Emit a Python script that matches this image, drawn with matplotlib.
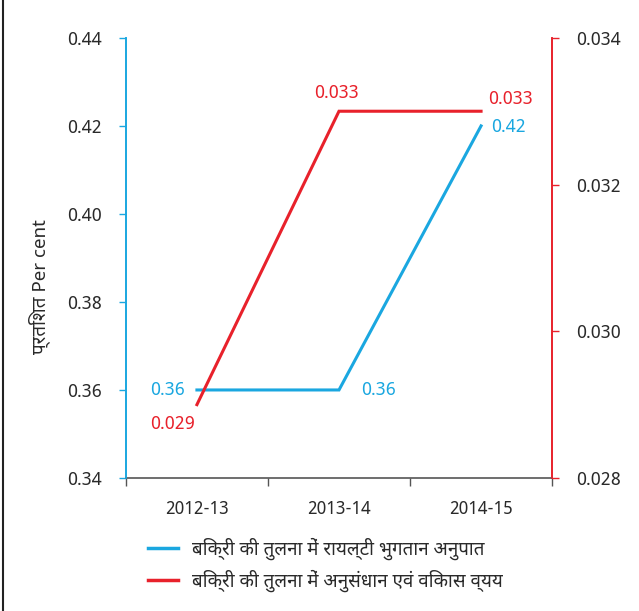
from matplotlib import pyplot as plt
from matplotlib import font_manager as fm
from matplotlib.lines import Line2D

years = ['2012-13', '2013-14', '2014-15']
royalty = [0.36, 0.36, 0.42]        # royalty payment to sales ratio (left axis)
rnd = [0.029, 0.033, 0.033]         # R&D spend to sales ratio (right axis)
royalty_labels = ['0.36', '0.36', '0.42']
rnd_labels = ['0.029', '0.033', '0.033']

legend_names = [
    'बिक्री की तुलना में रायल्टी भुगतान अनुपात',
    'बिक्री की तुलना में अनुसंधान एवं विकास व्यय',
]
ylabel = 'प्रतिशत Per cent'

BLUE = '#1aa7e0'
RED = '#e8212b'
GREY = '#555555'
TXT = '#2a2a2a'

# pick a font that has Devanagari glyphs
installed = set(f.name for f in fm.fontManager.ttflist)
dev = None
for name in ['Noto Sans Devanagari', 'Mukta', 'Hind', 'Poppins', 'Noto Serif Devanagari']:
    if name in installed:
        dev = name
        break
FAM = ([dev] if dev else []) + ['Noto Sans', 'DejaVu Sans']
plt.rcParams['font.family'] = FAM

fig = plt.figure(figsize=(6.39, 6.11), dpi=100)
ax = fig.add_axes([0.197, 0.2177, 0.667, 0.7203])
ax2 = ax.twinx()

x = [0.5, 1.5, 2.5]
ax.plot(x, royalty, color=BLUE, lw=2.2, solid_joinstyle='miter')
ax2.plot(x, rnd, color=RED, lw=2.2, solid_joinstyle='miter')

ax.set_xlim(0, 3)
ax.set_ylim(0.34, 0.44)
ax2.set_ylim(0.028, 0.034)
ax.set_yticks([0.34, 0.36, 0.38, 0.40, 0.42, 0.44])
ax.set_yticklabels(['0.34', '0.36', '0.38', '0.40', '0.42', '0.44'])
ax2.set_yticks([0.028, 0.030, 0.032, 0.034])
ax2.set_yticklabels(['0.028', '0.030', '0.032', '0.034'])

ax.set_xticks([0, 1, 2, 3])
ax.set_xticklabels([])
ax.set_xticks(x, minor=True)
ax.set_xticklabels(years, minor=True)
ax.tick_params(axis='x', which='major', length=6, color=GREY, width=1)
ax.tick_params(axis='x', which='minor', length=0, pad=16, labelsize=12.5, labelcolor=TXT)
ax.tick_params(axis='y', length=5, color=BLUE, width=1, labelsize=13, pad=12, labelcolor=TXT)
ax2.tick_params(axis='y', length=5, color=RED, width=1, labelsize=13, pad=12, labelcolor=TXT)

for a in (ax, ax2):
    a.spines['top'].set_visible(False)
    a.spines['left'].set_color(BLUE)
    a.spines['right'].set_color(RED)
    a.spines['bottom'].set_color(GREY)
    a.spines['left'].set_linewidth(1.2)
    a.spines['right'].set_linewidth(1.2)
    a.spines['bottom'].set_linewidth(1.2)
ax2.spines['bottom'].set_visible(False)

ax.set_ylabel(ylabel, fontsize=13.5, color=TXT)
ax.yaxis.set_label_coords(-0.178, 0.436)

# value labels
ax.annotate(royalty_labels[0], (x[0], royalty[0]), xytext=(-34, 0), textcoords='offset points',
            color=BLUE, fontsize=13, va='center')
ax.annotate(royalty_labels[1], (x[1], royalty[1]), xytext=(16, 0), textcoords='offset points',
            color=BLUE, fontsize=13, va='center')
ax.annotate(royalty_labels[2], (x[2], royalty[2]), xytext=(7, -1), textcoords='offset points',
            color=BLUE, fontsize=13, va='center')
ax2.annotate(rnd_labels[0], (x[0], rnd[0]), xytext=(-34, -14), textcoords='offset points',
             color=RED, fontsize=13, va='center')
ax2.annotate(rnd_labels[1], (x[1], rnd[1]), xytext=(-18, 13), textcoords='offset points',
             color=RED, fontsize=13, va='center')
ax2.annotate(rnd_labels[2], (x[2], rnd[2]), xytext=(5, 9), textcoords='offset points',
             color=RED, fontsize=13, va='center')

handles = [Line2D([], [], color=BLUE, lw=2.5), Line2D([], [], color=RED, lw=2.5)]
fig.legend(handles, legend_names, loc='upper left', bbox_to_anchor=(0.2316, 0.12),
           frameon=False, fontsize=13.5, handlelength=1.6, handletextpad=0.75,
           labelspacing=0.5, borderpad=0, borderaxespad=0, labelcolor=TXT)

# frame line on the left edge of the picture
fig.add_artist(Line2D([0.004, 0.004], [0, 1], color='#222222', lw=1.5, transform=fig.transFigure))

fig.savefig('out.png', dpi=100)
